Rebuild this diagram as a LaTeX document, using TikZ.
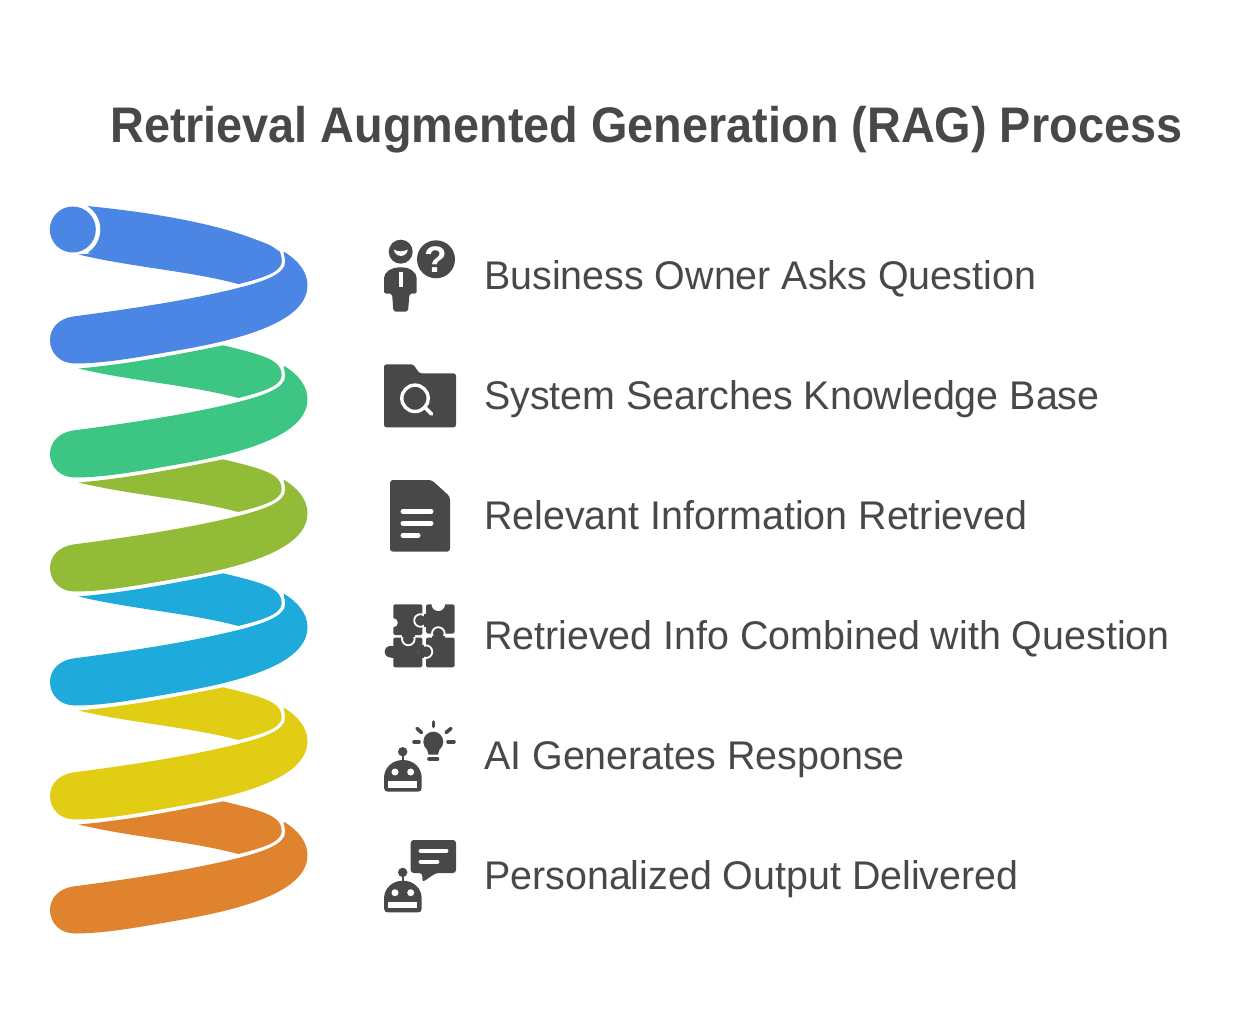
\documentclass[tikz,border=0pt]{standalone}
\usepackage{fontspec}
\setmainfont{Liberation Sans}
\newfontfamily\stepfont[FakeStretch=0.985]{Liberation Sans}
\newfontfamily\titlefont[FakeStretch=0.9365]{Liberation Sans}
\usepackage{xcolor}
\usepackage{tikz}
\definecolor{ragblue}{RGB}{76,134,229}
\definecolor{raggreen}{RGB}{60,197,131}
\definecolor{ragolive}{RGB}{146,188,56}
\definecolor{ragcyan}{RGB}{30,171,220}
\definecolor{ragyellow}{RGB}{224,205,20}
\definecolor{ragorange}{RGB}{224,131,47}
\definecolor{ragdark}{RGB}{72,72,72}
\tikzstyle{steptext} = [anchor=base west, inner sep=0pt, text=ragdark, font=\stepfont\fontsize{40}{44}\selectfont]
\tikzstyle{titletext} = [anchor=base west, inner sep=0pt, text=ragdark, font=\titlefont\fontsize{50}{54}\selectfont\bfseries]
\tikzstyle{icon} = [fill=ragdark, draw=none]
\tikzstyle{iconline} = [draw=white, line cap=round, line width=5pt]
\tikzstyle{ray} = [draw=ragdark, line cap=round, line width=3.6pt]
\tikzstyle{knob} = [fill=ragdark, draw=white, line width=1.8pt]
% wedge behind the turn, then the turn itself
\newcommand{\coilband}[2]{
\begin{scope}[shift={(0,#2)}]
\fill[#1] (78.5,254.5) .. controls (130,267) and (190,271) .. (238.3,284) .. controls (258,279) and (281,273) .. (281.7,262) .. controls (282,259) and (281,256) .. (280,254) .. controls (275,244) and (255,239) .. (223.3,231.3) .. controls (180,240) and (130,250) .. cycle;
\fill[#1] (283.5,251.5) .. controls (298,260) and (307.5,272) .. (307.5,285) .. controls (307.5,318) and (255,337) .. (180,350) .. controls (140,357) and (105,363.5) .. (75,363.5) .. controls (60,363.5) and (50,353) .. (50,340) .. controls (50,327) and (60,318.5) .. (73,316.5) .. controls (130,309) and (190,300) .. (238,288) .. controls (262,282) and (286,274) .. (285,262) .. controls (285,258) and (284,255) .. cycle;
\end{scope}
}
\newcommand{\roboticon}[1]{
\begin{scope}[shift={(0,#1)}]
\fill[icon] (402.7,751.7) circle (4.7);
\draw[ragdark, line width=2pt] (402.7,752) -- (402.7,762);
\fill[icon] (384,778) .. controls (384,768) and (392,760) .. (402.85,760) .. controls (414,760) and (421.7,768) .. (421.7,778) -- (421.7,787.7) .. controls (421.7,790.5) and (420.5,791.7) .. (417.7,791.7) -- (388,791.7) .. controls (385.5,791.7) and (384,790.5) .. (384,787.7) -- cycle;
\fill[white] (395,772) circle (3.5);
\fill[white] (410.7,772) circle (3.5);
\fill[white] (388.3,781) rectangle (417.3,787.7);
\end{scope}
}
\begin{document}
\begin{tikzpicture}[x=1pt, y=-1pt]
\useasboundingbox (0,0) rectangle (1238,1032);
% Title
\node[titletext] (title) at (110,142.5) {Retrieval Augmented Generation (RAG) Process};

% Coil
\fill[ragblue] (86.7,206) .. controls (150,212) and (240,226) .. (280,251.7) .. controls (281,255) and (282,259) .. (281.7,262) .. controls (281,273) and (258,279) .. (238.3,284) .. controls (190,266) and (140,256) .. (88.3,253.3) -- cycle;
\fill[white] (72.8,229.5) circle (27.5);
\fill[ragblue] (72.8,229.5) circle (23);
\coilband{ragorange}{570}
\coilband{ragyellow}{456}
\coilband{ragcyan}{342}
\coilband{ragolive}{228}
\coilband{raggreen}{114}
\coilband{ragblue}{0}

% Step 1
\fill[icon] (400.7,251.7) circle (12);
\fill[white] (393.7,249.5) .. controls (398,252) and (403,252) .. (407.7,249.5) .. controls (407,258) and (395,258) .. cycle;
\fill[icon, rounded corners=2pt] (384,293.5) -- (384,280) .. controls (384,272) and (392,267.3) .. (400.7,267.3) .. controls (409,267.3) and (416.7,272) .. (416.7,280) -- (416.7,293.5) -- (409.5,293.5) -- (408,311.7) -- (393.5,311.7) -- (392,293.5) -- cycle;
\fill[white] (398.5,271.5) rectangle (402.9,286.7);
\fill[icon] (436,259.3) circle (19);
\node[inner sep=0pt, text=white, font=\fontsize{37}{37}\selectfont\bfseries] (qmark) at (436,259.3) {?};
\node[steptext] (s1) at (484,289) {Business Owner Asks Question};

% Step 2
\fill[icon, rounded corners=2.5pt] (384,427.3) -- (384,364.3) -- (413.3,364.3) -- (419.3,373.3) -- (456,373.3) -- (456,427.3) -- cycle;
\draw[white, line width=3.4pt] (415,398.3) circle (13.2);
\draw[iconline, line width=3.6pt] (425,407.5) -- (431.5,414);
\node[steptext] (s2) at (484,409) {System Searches Knowledge Base};

% Step 3
\fill[icon, rounded corners=3pt] (390,551.7) -- (390,480) -- (431.7,480) -- (450,496.7) -- (450,551.7) -- cycle;
\draw[iconline] (403,511.3) -- (431,511.3);
\draw[iconline] (403,523.3) -- (431,523.3);
\draw[iconline] (403,535.3) -- (418,535.3);
\node[steptext] (s3) at (484,529) {Relevant Information Retrieved};

% Step 4
\fill[icon, rounded corners=1.5pt] (393.3,604.3) rectangle (422.3,635);
\fill[icon, rounded corners=1.5pt] (426,604.3) rectangle (454.5,633.5);
\fill[icon, rounded corners=1.5pt] (393.3,637.5) rectangle (422.3,667.3);
\fill[icon, rounded corners=1.5pt] (426,637.5) rectangle (454.5,667.3);
\fill[white] (438.3,604.3) circle (6.7);
\fill[white] (393.3,622.7) circle (4.5);
\filldraw[knob] (420.5,620.5) circle (6.3);
\fill[ragdark] (423.5,614) rectangle (428.5,627);
\filldraw[knob] (408.3,639) circle (6.3);
\fill[ragdark] (401.8,631) rectangle (414.8,636.5);
\filldraw[knob] (438.3,633.5) circle (6.3);
\fill[ragdark] (431.8,636) rectangle (444.8,641.5);
\filldraw[knob] (426,651.7) circle (6.3);
\fill[ragdark] (418.5,645.2) rectangle (423.5,658.2);
\fill[icon] (390.5,651.7) circle (5.8);
\fill[ragdark] (391,646) rectangle (396,657.5);
\node[steptext] (s4) at (484,649) {Retrieved Info Combined with Question};

% Step 5
\roboticon{0}
\fill[icon] (433.3,741.7) circle (10);
\fill[icon] (426,746) -- (428.5,754.5) -- (438,754.5) -- (440.5,746) -- cycle;
\draw[ray] (429,759) -- (437.5,759);
\draw[ray] (433.3,722) -- (433.3,726.5);
\draw[ray] (414,741.7) -- (419,741.7);
\draw[ray] (448,741.7) -- (454,741.7);
\draw[ray] (417,728.5) -- (421.5,732.5);
\draw[ray] (451,728.5) -- (446,732.5);
\node[steptext] (s5) at (484,769) {AI Generates Response};

% Step 6
\roboticon{120.7}
\fill[icon, rounded corners=3pt] (410.7,840) -- (456,840) -- (456,873) -- (436,873) -- (422.3,882.3) -- (422.3,873) -- (410.7,873) -- cycle;
\draw[iconline, line width=3.8pt] (420.5,850.7) -- (446.5,850.7);
\draw[iconline, line width=3.8pt] (420.5,861.7) -- (437.5,861.7);
\node[steptext] (s6) at (484,889) {Personalized Output Delivered};
\end{tikzpicture}
\end{document}
